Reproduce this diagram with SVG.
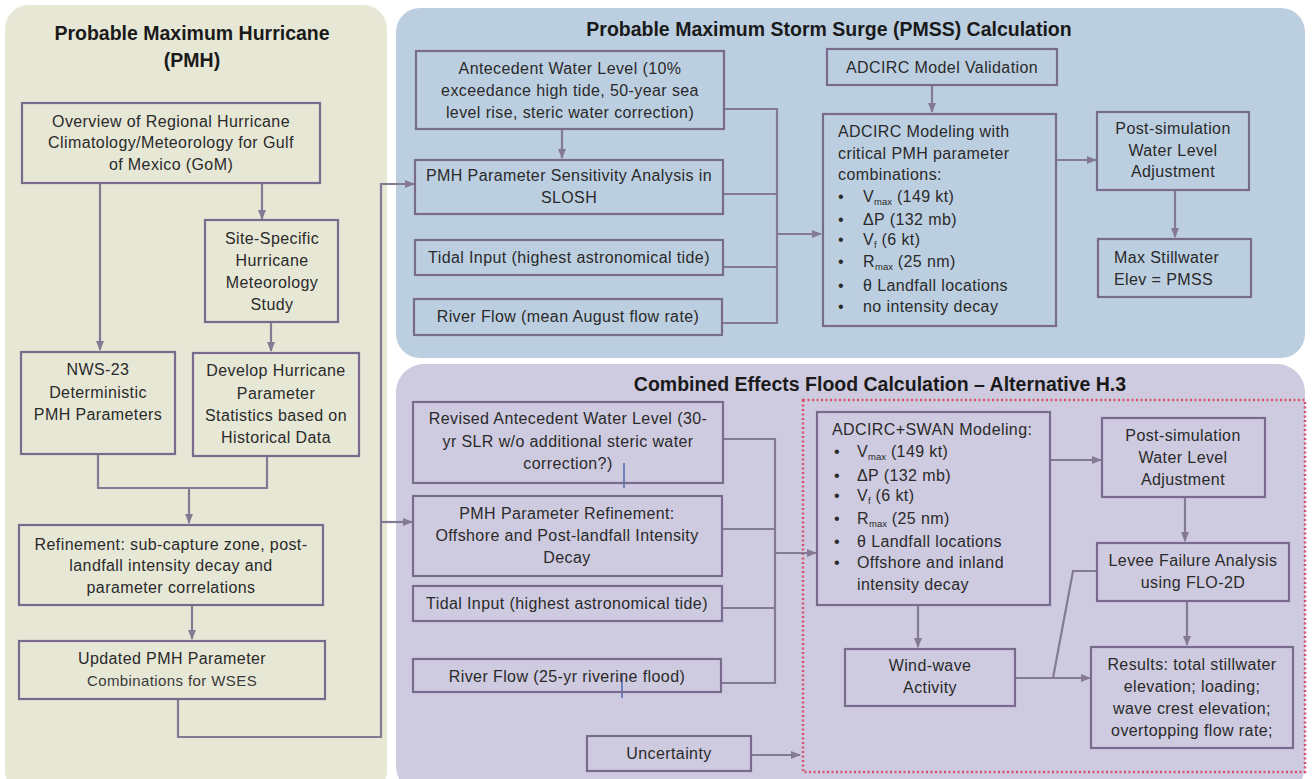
<svg xmlns="http://www.w3.org/2000/svg" width="1313" height="779" viewBox="0 0 1313 779">
<defs>
<style>
.panel-l{fill:#e7e7d6}
.panel-b{fill:#bccfe1}
.panel-p{fill:#cecbe0}
.box{fill:none;stroke:#786b8c;stroke-width:2.2}
.ln{fill:none;stroke:#857a94;stroke-width:2.2}
.t{font-family:"Liberation Sans",Arial,sans-serif;font-size:16px;letter-spacing:0.4px;fill:#2a2a2a}
.c{text-anchor:middle}
.h{font-family:"Liberation Sans",Arial,sans-serif;font-size:19.5px;font-weight:bold;fill:#1a1a1a;text-anchor:middle}
.sub{font-size:9.5px;letter-spacing:0}
.cur{stroke:#3050a0;stroke-width:1.2}
</style>
<marker id="ah" markerUnits="userSpaceOnUse" markerWidth="10" markerHeight="8" refX="9" refY="4" orient="auto">
<path d="M0,0 L10,4 L0,8 z" fill="#857a94"/>
</marker>
</defs>
<rect width="1313" height="779" fill="#ffffff"/>
<g id="panels">
<rect class="panel-l" x="5" y="5" width="382" height="790" rx="24"/>
<rect class="panel-b" x="396" y="8" width="909" height="350" rx="24"/>
<rect class="panel-p" x="396" y="364" width="909" height="430" rx="28"/>
<text class="h" x="192" y="40">Probable Maximum Hurricane</text>
<text class="h" x="192" y="67">(PMH)</text>
<text class="h" x="829" y="36">Probable Maximum Storm Surge (PMSS) Calculation</text>
<text class="h" x="880" y="391">Combined Effects Flood Calculation – Alternative H.3</text>
<rect x="803" y="400" width="502" height="372" fill="none" stroke="#d8506c" stroke-width="2.5" stroke-dasharray="2 2.5"/>
</g>
<g id="connectors">
<path class="ln" d="M100,183 V350" marker-end="url(#ah)"/>
<path class="ln" d="M262,183 V219" marker-end="url(#ah)"/>
<path class="ln" d="M271,322 V351" marker-end="url(#ah)"/>
<path class="ln" d="M98,455 V488 M267,456 V488 M97,488 H268"/>
<path class="ln" d="M189,488 V523" marker-end="url(#ah)"/>
<path class="ln" d="M192,605 V639" marker-end="url(#ah)"/>
<path class="ln" d="M178,699 V737 H381 V184 H414" marker-end="url(#ah)"/>
<path class="ln" d="M381,522 H412" marker-end="url(#ah)"/>
<path class="ln" d="M562,129 V158" marker-end="url(#ah)"/>
<path class="ln" d="M724,109 H777 M723,194 H777 M723,267 H777 M722,323 H777 M777,108 V324"/>
<path class="ln" d="M777,234 H821" marker-end="url(#ah)"/>
<path class="ln" d="M932,85 V112" marker-end="url(#ah)"/>
<path class="ln" d="M1056,160 H1096" marker-end="url(#ah)"/>
<path class="ln" d="M1175,190 V237" marker-end="url(#ah)"/>
<path class="ln" d="M723,439 H775 M722,529 H775 M722,608 H775 M721,683 H775 M775,438 V684"/>
<path class="ln" d="M775,553 H816" marker-end="url(#ah)"/>
<path class="ln" d="M751,755 H800" marker-end="url(#ah)"/>
<path class="ln" d="M1050,460 H1101" marker-end="url(#ah)"/>
<path class="ln" d="M1185,497 V541" marker-end="url(#ah)"/>
<path class="ln" d="M1187,601 V645" marker-end="url(#ah)"/>
<path class="ln" d="M918,605 V647" marker-end="url(#ah)"/>
<path class="ln" d="M1015,678 H1090" marker-end="url(#ah)"/>
<path class="ln" d="M1053,678 L1073,571 H1097"/>
<line class="cur" x1="624" y1="463" x2="624" y2="488"/>
<line class="cur" x1="622" y1="675" x2="622" y2="698"/>
</g>
<g id="overview">
<rect class="box" x="22" y="103" width="298" height="80"/>
<text class="t c" x="171" y="127">Overview of Regional Hurricane</text>
<text class="t c" x="171" y="148">Climatology/Meteorology for Gulf</text>
<text class="t c" x="171" y="170">of Mexico (GoM)</text>
</g>
<g id="site-specific">
<rect class="box" x="205" y="220" width="133" height="102"/>
<text class="t c" x="272" y="244">Site-Specific</text>
<text class="t c" x="272" y="266">Hurricane</text>
<text class="t c" x="272" y="288">Meteorology</text>
<text class="t c" x="272" y="310">Study</text>
</g>
<g id="nws23">
<rect class="box" x="21" y="352" width="154" height="102"/>
<text class="t c" x="98" y="375">NWS-23</text>
<text class="t c" x="98" y="398">Deterministic</text>
<text class="t c" x="98" y="420">PMH Parameters</text>
</g>
<g id="develop">
<rect class="box" x="193" y="353" width="166" height="103"/>
<text class="t c" x="276" y="376">Develop Hurricane</text>
<text class="t c" x="276" y="399">Parameter</text>
<text class="t c" x="276" y="421">Statistics based on</text>
<text class="t c" x="276" y="443">Historical Data</text>
</g>
<g id="refinement">
<rect class="box" x="19" y="525" width="304" height="80"/>
<text class="t c" x="171" y="550">Refinement:  sub-capture zone, post-</text>
<text class="t c" x="171" y="571">landfall intensity decay and</text>
<text class="t c" x="171" y="593">parameter correlations</text>
</g>
<g id="updated">
<rect class="box" x="19" y="641" width="306" height="58"/>
<text class="t c" x="172" y="664">Updated PMH Parameter</text>
<text class="t c" x="172" y="686" style="font-size:15px;fill:#3a3a3a">Combinations for WSES</text>
</g>
<g id="antecedent">
<rect class="box" x="416" y="51" width="308" height="78"/>
<text class="t c" x="570" y="74">Antecedent Water Level (10%</text>
<text class="t c" x="570" y="96">exceedance high tide, 50-year sea</text>
<text class="t c" x="570" y="118">level rise, steric water correction)</text>
</g>
<g id="sensitivity">
<rect class="box" x="415" y="160" width="308" height="54"/>
<text class="t c" x="569" y="181">PMH Parameter Sensitivity Analysis in</text>
<text class="t c" x="569" y="203">SLOSH</text>
</g>
<g id="tidal1">
<rect class="box" x="415" y="240" width="308" height="35"/>
<text class="t c" x="569" y="263">Tidal Input (highest astronomical tide)</text>
</g>
<g id="river1">
<rect class="box" x="414" y="299" width="308" height="36"/>
<text class="t c" x="568" y="322">River Flow (mean August flow rate)</text>
</g>
<g id="validation">
<rect class="box" x="827" y="49" width="230" height="36"/>
<text class="t c" x="942" y="73">ADCIRC Model Validation</text>
</g>
<g id="adcirc">
<rect class="box" x="823" y="114" width="233" height="212"/>
<text class="t" x="838" y="137">ADCIRC Modeling with</text>
<text class="t" x="838" y="159">critical PMH parameter</text>
<text class="t" x="838" y="180">combinations:</text>
<text class="t" x="838" y="202">•<tspan x="863">V</tspan><tspan class="sub" dy="3">max</tspan><tspan dy="-3"> (149 kt)</tspan></text>
<text class="t" x="838" y="225">•<tspan x="863">ΔP (132 mb)</tspan></text>
<text class="t" x="838" y="245">•<tspan x="863">V</tspan><tspan class="sub" dy="3">f</tspan><tspan dy="-3"> (6 kt)</tspan></text>
<text class="t" x="838" y="267">•<tspan x="863">R</tspan><tspan class="sub" dy="3">max</tspan><tspan dy="-3">  (25 nm)</tspan></text>
<text class="t" x="838" y="291">•<tspan x="863">θ Landfall locations</tspan></text>
<text class="t" x="838" y="312">•<tspan x="863">no intensity decay</tspan></text>
</g>
<g id="postsim1">
<rect class="box" x="1097" y="112" width="152" height="78"/>
<text class="t c" x="1173" y="134">Post-simulation</text>
<text class="t c" x="1173" y="156">Water Level</text>
<text class="t c" x="1173" y="177">Adjustment</text>
</g>
<g id="maxstill">
<rect class="box" x="1098" y="239" width="153" height="58"/>
<text class="t" x="1114" y="263">Max Stillwater</text>
<text class="t" x="1114" y="285">Elev = PMSS</text>
</g>
<g id="revised">
<rect class="box" x="413" y="402" width="310" height="81"/>
<text class="t c" x="568" y="424">Revised Antecedent  Water Level (30-</text>
<text class="t c" x="568" y="447">yr SLR w/o additional steric water</text>
<text class="t c" x="568" y="469">correction?)</text>
</g>
<g id="pmh-refinement">
<rect class="box" x="413" y="496" width="309" height="80"/>
<text class="t c" x="567" y="519">PMH Parameter Refinement:</text>
<text class="t c" x="567" y="541">Offshore and Post-landfall Intensity</text>
<text class="t c" x="567" y="563">Decay</text>
</g>
<g id="tidal2">
<rect class="box" x="413" y="586" width="309" height="35"/>
<text class="t c" x="567" y="609">Tidal Input (highest astronomical tide)</text>
</g>
<g id="river2">
<rect class="box" x="413" y="659" width="308" height="33"/>
<text class="t c" x="567" y="682">River Flow (25-yr riverine flood)</text>
</g>
<g id="uncertainty">
<rect class="box" x="587" y="736" width="164" height="35"/>
<text class="t c" x="669" y="759">Uncertainty</text>
</g>
<g id="adcirc-swan">
<rect class="box" x="817" y="412" width="233" height="193"/>
<text class="t" x="832" y="435">ADCIRC+SWAN  Modeling:</text>
<text class="t" x="834" y="457">•<tspan x="857">V</tspan><tspan class="sub" dy="3">max</tspan><tspan dy="-3"> (149 kt)</tspan></text>
<text class="t" x="834" y="481">•<tspan x="857">ΔP (132 mb)</tspan></text>
<text class="t" x="834" y="501">•<tspan x="857">V</tspan><tspan class="sub" dy="3">f</tspan><tspan dy="-3"> (6 kt)</tspan></text>
<text class="t" x="834" y="524">•<tspan x="857">R</tspan><tspan class="sub" dy="3">max</tspan><tspan dy="-3">  (25 nm)</tspan></text>
<text class="t" x="834" y="547">•<tspan x="857">θ Landfall locations</tspan></text>
<text class="t" x="834" y="568">•<tspan x="857">Offshore and inland</tspan></text>
<text class="t" x="857" y="590">intensity decay</text>
</g>
<g id="postsim2">
<rect class="box" x="1102" y="418" width="163" height="79"/>
<text class="t c" x="1183" y="441">Post-simulation</text>
<text class="t c" x="1183" y="463">Water Level</text>
<text class="t c" x="1183" y="485">Adjustment</text>
</g>
<g id="levee">
<rect class="box" x="1097" y="543" width="192" height="58"/>
<text class="t c" x="1193" y="566">Levee  Failure Analysis</text>
<text class="t c" x="1193" y="588">using FLO-2D</text>
</g>
<g id="windwave">
<rect class="box" x="845" y="649" width="170" height="57"/>
<text class="t c" x="930" y="671">Wind-wave</text>
<text class="t c" x="930" y="693">Activity</text>
</g>
<g id="results">
<rect class="box" x="1091" y="647" width="202" height="101"/>
<text class="t c" x="1192" y="670">Results: total stillwater</text>
<text class="t c" x="1192" y="692">elevation; loading;</text>
<text class="t c" x="1192" y="714">wave crest elevation;</text>
<text class="t c" x="1192" y="736">overtopping flow rate;</text>
</g>
</svg>
